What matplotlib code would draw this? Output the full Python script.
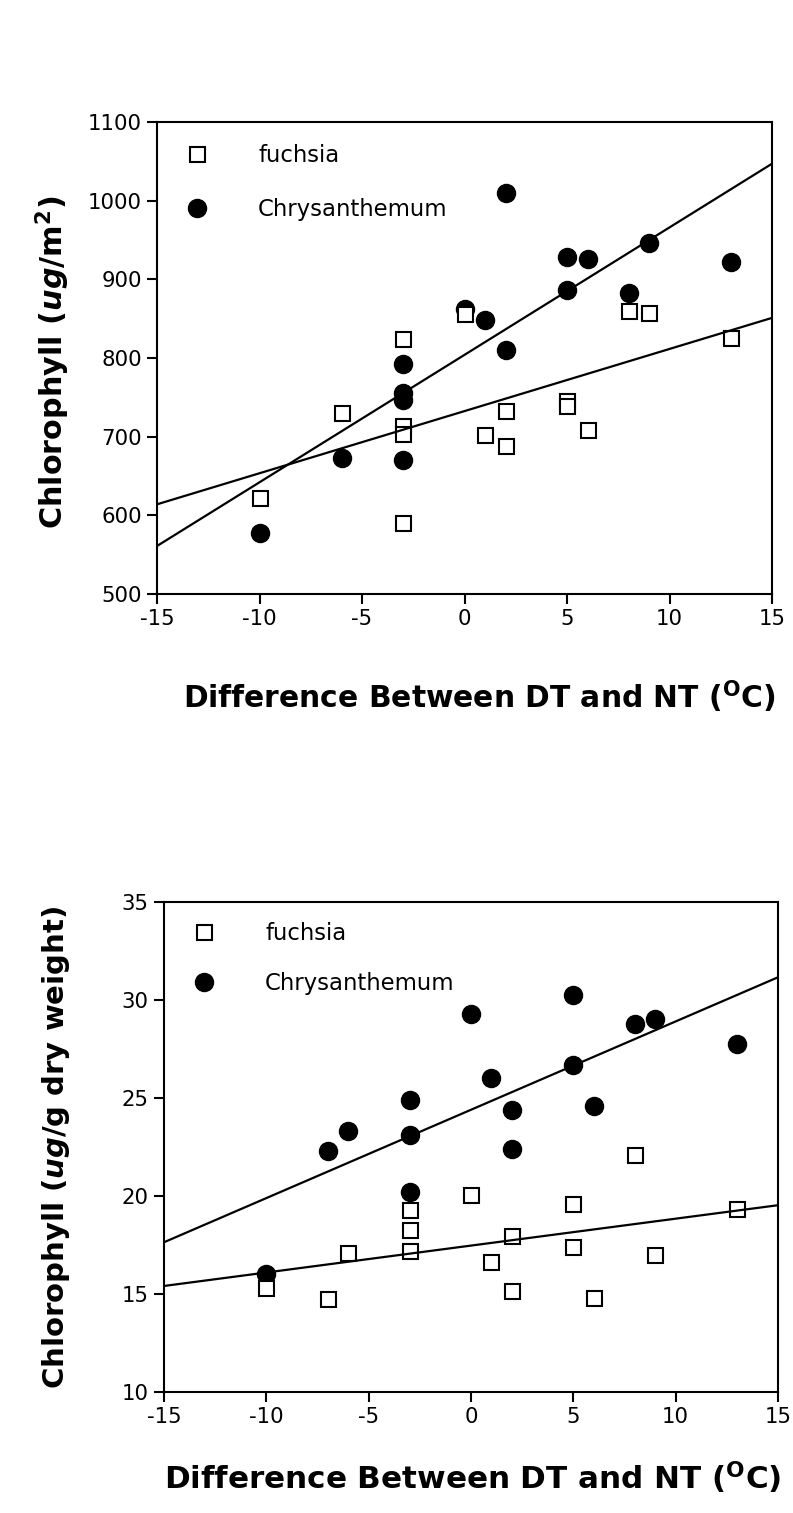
import matplotlib
matplotlib.use("Agg")
import matplotlib.pyplot as plt

plt.rcParams['font.family'] = ['DejaVu Sans']
plt.rcParams['mathtext.fontset'] = 'custom'
plt.rcParams['mathtext.rm'] = 'DejaVu Sans:bold'
plt.rcParams['mathtext.it'] = 'DejaVu Sans:italic:bold'
plt.rcParams['mathtext.bf'] = 'DejaVu Sans:bold'

# top panel: chlorophyll per leaf area
diff_fuchsia_top = [-10, -6, -3, -3, -3, -3, 0, 1, 2, 2, 5, 5, 6, 8, 9, 13]
chl_fuchsia_top = [622, 730, 824, 713, 703, 590, 856, 702, 733, 688, 745, 739, 709, 860, 857, 825]
diff_chrys_top = [-10, -6, -3, -3, -3, -3, 0, 1, 2, 2, 5, 5, 6, 8, 9, 13]
chl_chrys_top = [577, 673, 793, 756, 747, 670, 862, 848, 1010, 810, 928, 887, 926, 882, 946, 922]
# regression lines, values at x = -15 and 15
line_x = [-15, 15]
fit_fuchsia_top = [614, 851]
fit_chrys_top = [561, 1047]

# bottom panel: chlorophyll per dry weight
diff_fuchsia_bot = [-10, -7, -6, -3, -3, -3, 0, 1, 2, 2, 5, 5, 6, 8, 9, 13]
chl_fuchsia_bot = [15.3, 14.76, 17.1, 19.27, 18.24, 17.21, 20.04, 16.65, 17.98, 15.15, 19.61, 17.38, 14.81, 22.07, 17.0, 19.32]
diff_chrys_bot = [-10, -7, -6, -3, -3, -3, 0, 1, 2, 2, 5, 5, 6, 8, 9, 13]
chl_chrys_bot = [16.0, 22.31, 23.34, 24.88, 23.13, 20.21, 29.31, 26.01, 24.37, 22.39, 30.25, 26.7, 24.59, 28.79, 29.05, 27.76]
fit_fuchsia_bot = [15.41, 19.53]
fit_chrys_bot = [17.64, 31.16]

xticks = [-15, -10, -5, 0, 5, 10, 15]
xlabel = r'Difference Between DT and NT ($^{\mathrm{O}}$C)'

fig = plt.figure(figsize=(7.93, 15.13), dpi=100)
ax1 = fig.add_axes([157 / 793, 1 - 594 / 1513, 615 / 793, 472 / 1513])
ax2 = fig.add_axes([164 / 793, 1 - 1392 / 1513, 614 / 793, 490 / 1513])


def draw_panel(ax, xf, yf, xc, yc, ff, fc, leg_anchor, spacing):
    ax.plot(xc, yc, 'o', color='black', markersize=13, zorder=3, label='Chrysanthemum')
    ax.plot(xf, yf, 's', markerfacecolor='white', markeredgecolor='black',
            markeredgewidth=1.5, markersize=10.8, zorder=4, label='fuchsia')
    ax.plot(line_x, ff, '-', color='black', lw=1.6, zorder=5)
    ax.plot(line_x, fc, '-', color='black', lw=1.6, zorder=5)
    ax.set_xlim(-15, 15)
    ax.set_xticks(xticks)
    ax.set_xticklabels([str(t) for t in xticks])
    for s in ax.spines.values():
        s.set_linewidth(1.5)
    ax.tick_params(direction='out', length=7, width=1.5, labelsize=15.3, pad=4,
                   top=False, right=False)
    h, l = ax.get_legend_handles_labels()
    ax.legend(h[::-1], l[::-1], loc='upper left', bbox_to_anchor=leg_anchor,
              frameon=False, fontsize=16.4, handlelength=1.0, handletextpad=2.2,
              labelspacing=spacing, borderaxespad=0, borderpad=0.4)


draw_panel(ax1, diff_fuchsia_top, chl_fuchsia_top, diff_chrys_top, chl_chrys_top,
           fit_fuchsia_top, fit_chrys_top, (0.031, 0.9725), 1.35)
ax1.set_ylim(500, 1100)
ax1.set_yticks(range(500, 1101, 100))
ax1.set_ylabel(r'Chlorophyll ($ug$/m$^{2}$)', fontsize=21.8, fontweight='bold')
ax1.yaxis.set_label_coords(-0.138, 0.49)
ax1.set_xlabel(xlabel, fontsize=21.4, fontweight='bold')
ax1.xaxis.set_label_coords(0.524, -0.178)

draw_panel(ax2, diff_fuchsia_bot, chl_fuchsia_bot, diff_chrys_bot, chl_chrys_bot,
           fit_fuchsia_bot, fit_chrys_bot, (0.031, 0.978), 1.2)
ax2.set_ylim(10, 35)
ax2.set_yticks(range(10, 36, 5))
ax2.set_ylabel(r'Chlorophyll ($ug$/g dry weight)', fontsize=21, fontweight='bold')
ax2.yaxis.set_label_coords(-0.150, 0.5)
ax2.set_xlabel(xlabel, fontsize=22.3, fontweight='bold')
ax2.xaxis.set_label_coords(0.503, -0.137)

fig.savefig('out.png', dpi=100)
